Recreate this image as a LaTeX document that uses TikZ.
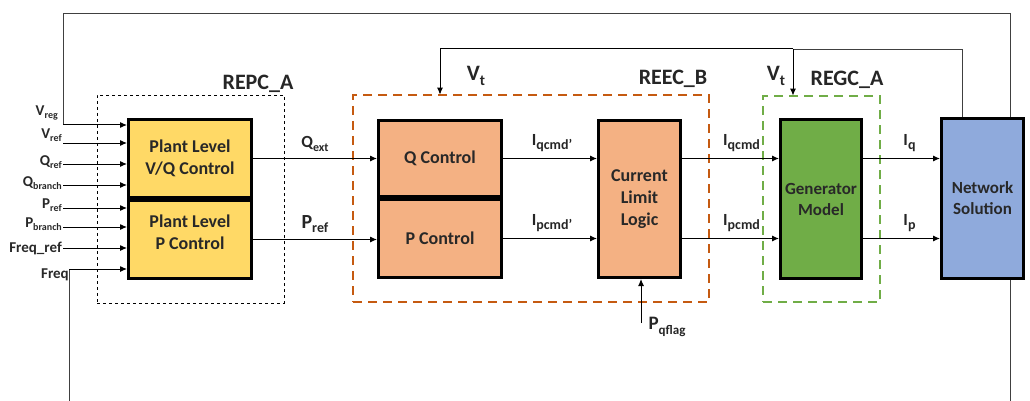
\documentclass[tikz,border=0pt]{standalone}
\usepackage{fontspec}
\setmainfont{Carlito}
\usetikzlibrary{arrows.meta,positioning}
\definecolor{plantyellow}{RGB}{255,217,102}
\definecolor{eecorange}{RGB}{244,177,131}
\definecolor{eecedge}{RGB}{197,90,17}
\definecolor{gcgreen}{RGB}{112,173,71}
\definecolor{netblue}{RGB}{143,170,220}
\definecolor{inkgray}{RGB}{40,40,40}

% lowered subscript with a fixed size
\newcommand{\lsub}[2][11]{\raisebox{-0.45ex}{\fontsize{#1}{#1}\selectfont #2}}

\begin{document}
\begin{tikzpicture}[
  x=1pt, y=-1pt,
  font=\bfseries\fontsize{14}{15}\selectfont, text=inkgray,
  block/.style={draw=black, line width=3pt, inner sep=0pt, align=center,
    font=\bfseries\fontsize{18}{22}\selectfont},
  sig/.style={-{Latex[length=7pt,width=6pt]}, line width=1pt, black},
  feedback/.style={line width=0.9pt, black!75},
  grouplabel/.style={font=\bfseries\fontsize{22}{24}\selectfont, text=black!85},
  siglabel/.style={font=\bfseries\fontsize{17}{18}\selectfont, text=black!85},
  inlabel/.style={anchor=east, inner sep=0pt, font=\bfseries\fontsize{15}{16}\selectfont},
]
\useasboundingbox (0,0) rectangle (1030,401);

% -------------------------------------------------------------------------
% REPC_A: plant level controller
% -------------------------------------------------------------------------
\node[draw=black, dashed, line width=0.8pt, minimum width=187pt,
      minimum height=208pt] (repc) at (190.5,199) {};
\node[grouplabel] at (258,84) {REPC\_A};

\node[block, fill=plantyellow, minimum width=123pt, minimum height=78pt]
  (vq) at (190,158.5) {Plant Level\\V/Q Control};
\node[block, fill=plantyellow, minimum width=123pt, minimum height=78pt]
  (pp) at (190,239.5) {};
\node[align=center, font=\bfseries\fontsize{18}{22}\selectfont]
  at ([yshift=7pt]pp.center) {Plant Level\\P Control};

% plant inputs, label left of each line start
\foreach \lab/\ly/\sy [count=\i] in {%
    V\lsub[10]{ref}/135/143,
    Q\lsub[10]{ref}/162/164,
    Q\lsub[10]{branch}/183/185,
    P\lsub[10]{ref}/205/208,
    P\lsub[10]{branch}/224/227,
    Freq\_ref/248/248}
{
  \coordinate (in\i) at (63,\sy);
  \node[inlabel] (inlab\i) at (62,\ly) {\lab};
  \draw[sig] (in\i) -- (in\i -| vq.west);
}
\node[inlabel] (vreglab) at (58,113) {V\lsub[10]{reg}};
\node[inlabel] (freqlab) at (69,275) {Freq};

% -------------------------------------------------------------------------
% REEC_B: electrical controller
% -------------------------------------------------------------------------
\node[draw=eecedge, dash pattern=on 9pt off 6pt, line width=2.6pt,
      minimum width=356pt, minimum height=207pt] (reec) at (531,198.5) {};
\node[grouplabel] at (673,79) {REEC\_B};

\node[block, fill=eecorange, minimum width=123pt, minimum height=76pt]
  (qctrl) at (440,158.5) {Q Control};
\node[block, fill=eecorange, minimum width=123pt, minimum height=78pt]
  (pctrl) at (440,238.5) {P Control};
\node[block, fill=eecorange, minimum width=82pt, minimum height=157pt]
  (cll) at (639.5,199) {Current\\Limit\\Logic};

\coordinate (pq) at (641,323);
\draw[sig] (pq) -- (pq |- cll.south);
\node[siglabel, anchor=west, font=\bfseries\fontsize{19}{20}\selectfont]
  (pqlab) at (645,327) {P\lsub[13]{qflag}};

% -------------------------------------------------------------------------
% REGC_A: generator / converter model and network
% -------------------------------------------------------------------------
\node[draw=gcgreen, dash pattern=on 9pt off 6pt, line width=2.8pt,
      minimum width=117pt, minimum height=206pt] (regc) at (821.5,199) {};
\node[grouplabel] at (847,80) {REGC\_A};

\node[block, fill=gcgreen, minimum width=81pt, minimum height=159pt,
      font=\bfseries\fontsize{17}{21}\selectfont]
  (gen) at (821,199) {Generator\\Model};
\node[block, fill=netblue, minimum width=82pt, minimum height=160pt,
      font=\bfseries\fontsize{17}{21}\selectfont]
  (net) at (982.5,198.5) {Network\\Solution};

% -------------------------------------------------------------------------
% forward signals
% -------------------------------------------------------------------------
\draw[sig] (vq.east) -- (vq.east -| qctrl.west)
  node[midway, above=3pt, siglabel] {Q\lsub[12]{ext}};
\draw[sig] (pp.east) -- (pp.east -| pctrl.west)
  node[midway, above=3pt, siglabel, font=\bfseries\fontsize{20}{21}\selectfont]
  {P\lsub[14]{ref}};
\draw[sig] (qctrl.east) -- (qctrl.east -| cll.west)
  node[midway, above=3pt, siglabel, xshift=2pt] {I\lsub[14]{qcmd'}};
\draw[sig] (pctrl.east) -- (pctrl.east -| cll.west)
  node[midway, above=3pt, siglabel, xshift=2pt] {I\lsub[14]{pcmd'}};
\draw[sig] (cll.east |- qctrl) -- (qctrl -| gen.west)
  node[midway, above=3pt, siglabel, xshift=11pt] {I\lsub[14]{qcmd}};
\draw[sig] (cll.east |- pctrl) -- (pctrl -| gen.west)
  node[midway, above=3pt, siglabel, xshift=11pt] {I\lsub[14]{pcmd}};
\draw[sig] (gen.east |- qctrl) -- (qctrl -| net.west)
  node[midway, above=3pt, siglabel, xshift=8pt] {I\lsub[14]{q}};
\draw[sig] (gen.east |- pctrl) -- (pctrl -| net.west)
  node[midway, above=3pt, siglabel, xshift=8pt] {I\lsub[14]{p}};

% -------------------------------------------------------------------------
% feedback loops
% -------------------------------------------------------------------------
\coordinate (topR) at (1010,13);
\coordinate (vregbend) at (63,125);
\draw[feedback] (net.north -| topR) -- (topR) -| (vregbend);
\draw[sig] (vregbend) -- (vregbend -| vq.west);
\draw[feedback] (net.south -| topR) -- (1010,401);

\coordinate (freqbend) at (69,269);
\draw[feedback] (69,401) -- (freqbend);
\draw[sig] (freqbend) -- (freqbend -| pp.west);

\coordinate (vtR) at (962,49);
\coordinate (vtG) at (793,49);
\draw[feedback] (net.north -| vtR) -- (vtR) -- (vtG);
\draw[sig] (vtG) -| ([yshift=-1pt]reec.north -| qctrl.north);
\draw[sig] (vtG) -- ([yshift=-1pt]vtG |- regc.north);
\node[grouplabel] at (476,76) {V\lsub[15]{t}};
\node[grouplabel] at (776,76) {V\lsub[15]{t}};

\end{tikzpicture}
\end{document}
